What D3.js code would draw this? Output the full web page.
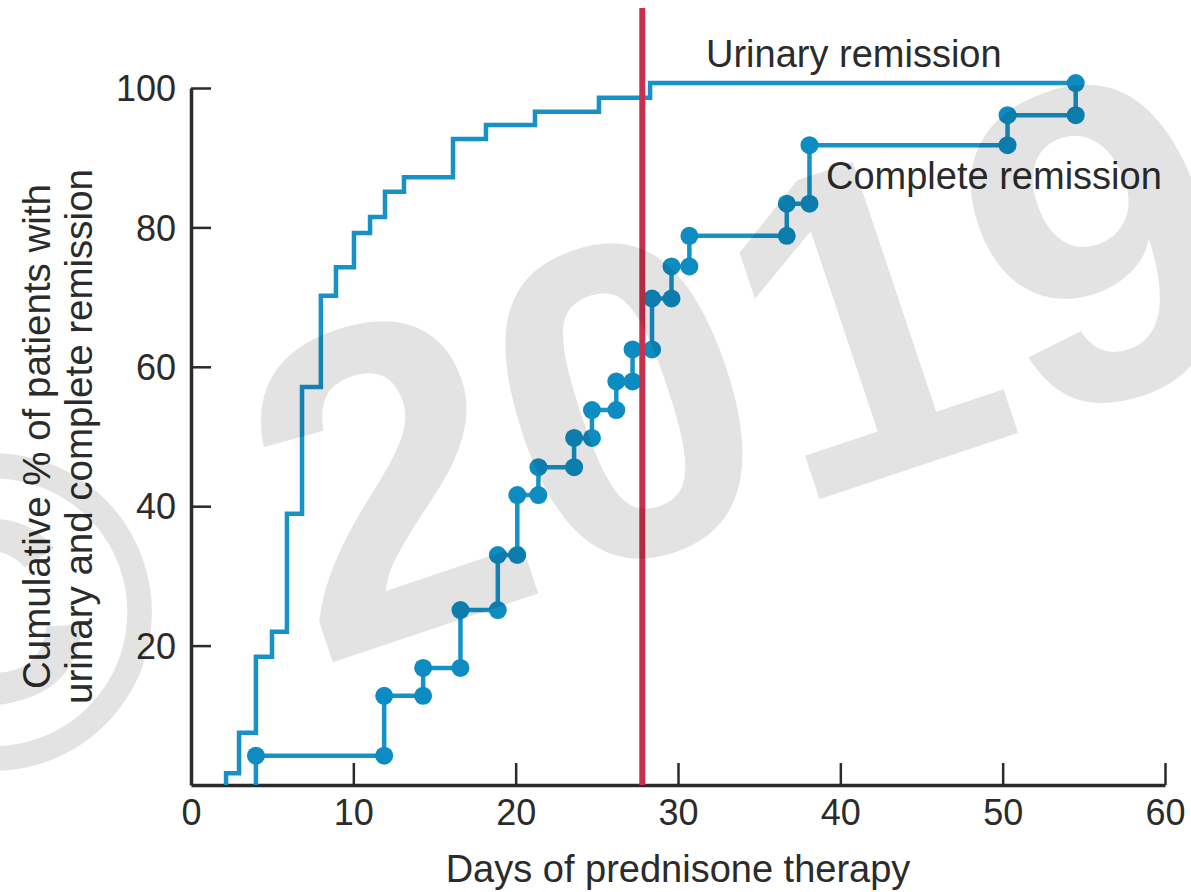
<!DOCTYPE html>
<html lang="en">
<head>
    <meta charset="UTF-8">
    <title>Prednisone remission</title>
    <style>
        body { margin: 0; background: #fff; }
        svg { display: block; }
        .axis path, .axis line { stroke: #2b2b2b; }
        .axis text { fill: #2b2b2b; font-family: "Liberation Sans", Arial, sans-serif; }
        .lbl { fill: #2b2b2b; font-family: "Liberation Sans", Arial, sans-serif; }
        .urinary, .complete { fill: none; stroke: #1692c9; stroke-width: 4.5; }
        .dot { fill: #0d8cc2; }
        .pred { stroke: #c9304b; stroke-width: 6; }
        .mark { fill: #000; fill-opacity: 0.11; font-family: "Liberation Sans", Arial, sans-serif; font-weight: bold; }
    </style>
</head>
<body>
    <div class="chart"></div>
    <script src="https://cdn.jsdelivr.net/npm/d3@7/dist/d3.min.js"></script>
    <script>
    (function()
    {
        "use strict";

        // urinary remission, day -> cumulative %
        var urinaryDays = [2.16, 2.96, 4.0, 4.99, 5.91, 6.84, 8.0, 8.93, 10.04, 11.03, 11.95, 13.12, 16.14, 18.17, 21.19, 25.13, 28.28];
        var urinaryPct  = [1.7, 7.5, 18.4, 22.0, 38.9, 57.1, 70.2, 74.3, 79.2, 81.5, 85.1, 87.2, 92.7, 94.7, 96.6, 98.6, 100.7];
        var urinaryEnd = 54.5;

        // complete remission, day -> cumulative %
        var completeDays = [4.0, 11.9, 14.3, 16.6, 18.9, 20.1, 21.4, 23.6, 24.7, 26.2, 27.2, 28.4, 29.6, 30.7, 36.7, 38.1, 50.3, 54.5];
        var completePct  = [4.2, 12.8, 16.8, 25.1, 33.0, 41.6, 45.6, 49.8, 53.8, 57.9, 62.5, 69.8, 74.4, 78.8, 83.4, 91.8, 96.1, 100.7];

        var prednisoneDay = 27.8;

        var xTicks = [0, 10, 20, 30, 40, 50, 60];
        var yTicks = [20, 40, 60, 80, 100];

        var width = 1191, height = 892;
        var left = 191, right = 1165, top = 88, bottom = 785;

        var x = d3.scaleLinear().domain([0, 60]).range([left, right]);
        var y = d3.scaleLinear().domain([0, 100]).range([bottom, top]);

        var svg = d3.select('.chart').append('svg')
            .attr('width', width)
            .attr('height', height);

        // axes, ticks pointing inward
        var xAxis = svg.append('g')
            .attr('class', 'axis')
            .attr('transform', 'translate(0,' + bottom + ')')
            .call(d3.axisBottom(x).tickValues(xTicks).tickSizeInner(-22).tickSizeOuter(0).tickPadding(40));
        xAxis.select('.domain').attr('stroke-width', 3.5);
        xAxis.selectAll('.tick line').attr('stroke-width', 2.5);
        xAxis.selectAll('.tick text').attr('font-size', 36).attr('dy', '0');

        var yAxis = svg.append('g')
            .attr('class', 'axis')
            .attr('transform', 'translate(' + left + ',0)')
            .call(d3.axisLeft(y).tickValues(yTicks).tickSizeInner(-20).tickSizeOuter(0).tickPadding(15));
        yAxis.select('.domain').attr('stroke-width', 3.5);
        yAxis.selectAll('.tick line').attr('stroke-width', 2.5);
        yAxis.selectAll('.tick text').attr('font-size', 36).attr('dy', '0.35em');

        // step lines
        var line = d3.line()
            .x(function(d) { return x(d[0]); })
            .y(function(d) { return y(d[1]); })
            .curve(d3.curveStepAfter);

        var urinaryPts = [[urinaryDays[0], 0]];
        urinaryDays.forEach(function(d, i) { urinaryPts.push([d, urinaryPct[i]]); });
        urinaryPts.push([urinaryEnd, urinaryPct[urinaryPct.length - 1]]);

        var completePts = [[completeDays[0], 0]];
        completeDays.forEach(function(d, i) { completePts.push([d, completePct[i]]); });

        svg.append('path').attr('class', 'urinary').attr('d', line(urinaryPts));
        svg.append('path').attr('class', 'complete').attr('d', line(completePts));

        var dots = [[completeDays[0], completePct[0]]];
        completeDays.forEach(function(d, i) {
            if (i > 0) {
                dots.push([d, completePct[i - 1]]);
                dots.push([d, completePct[i]]);
            }
        });
        svg.selectAll('circle.dot').data(dots).enter().append('circle')
            .attr('class', 'dot')
            .attr('cx', function(d) { return x(d[0]); })
            .attr('cy', function(d) { return y(d[1]); })
            .attr('r', 9);

        // start of prednisone taper
        svg.append('line')
            .attr('class', 'pred')
            .attr('x1', x(prednisoneDay)).attr('x2', x(prednisoneDay))
            .attr('y1', 8).attr('y2', bottom);

        // labels
        svg.append('text').attr('class', 'lbl')
            .attr('x', 706).attr('y', 67)
            .attr('font-size', 38)
            .text('Urinary remission');
        svg.append('text').attr('class', 'lbl')
            .attr('x', 826).attr('y', 189)
            .attr('font-size', 38)
            .text('Complete remission');

        svg.append('text').attr('class', 'lbl')
            .attr('x', (left + right) / 2).attr('y', 882)
            .attr('text-anchor', 'middle')
            .attr('font-size', 38)
            .text('Days of prednisone therapy');

        var yTitle = svg.append('text').attr('class', 'lbl')
            .attr('transform', 'translate(0,' + (top + bottom) / 2 + ') rotate(-90)')
            .attr('text-anchor', 'middle')
            .attr('font-size', 38.5);
        yTitle.append('tspan').attr('x', 0).attr('y', 50).text('Cumulative % of patients with');
        yTitle.append('tspan').attr('x', 0).attr('y', 92).text('urinary and complete remission');

        // watermark
        svg.append('text').attr('class', 'mark')
            .attr('transform', 'translate(-115,812) rotate(-18.5)')
            .attr('font-size', 450)
            .text('\u00a9 2019');
    })();
    </script>
</body>
</html>
